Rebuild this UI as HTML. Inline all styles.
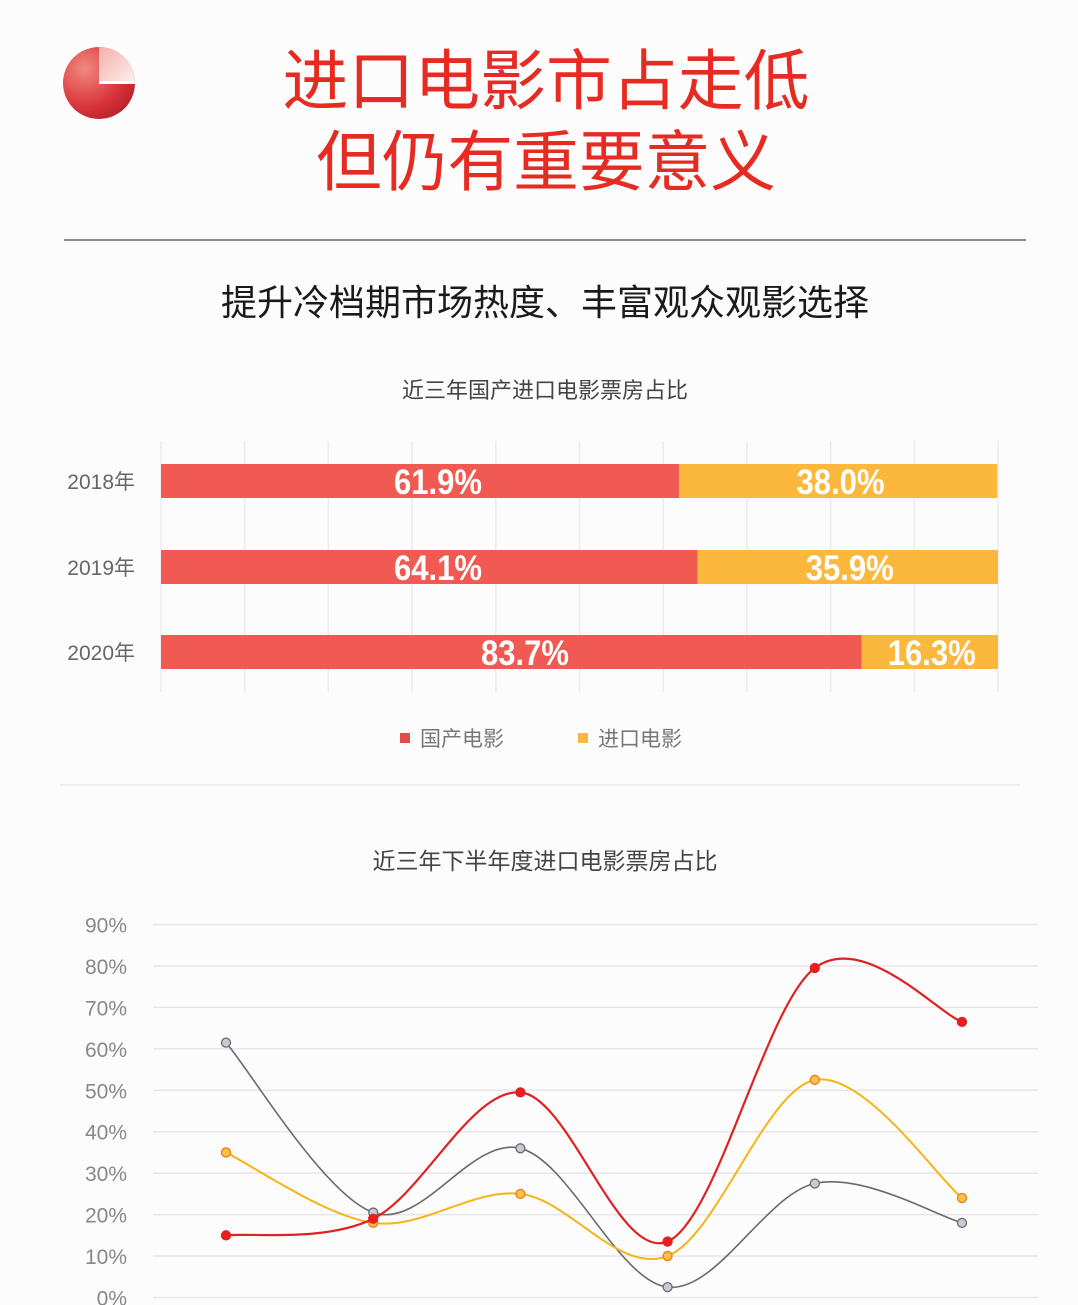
<!DOCTYPE html>
<html><head><meta charset="utf-8">
<style>
html,body{margin:0;padding:0;background:#fcfcfd;}
svg{display:block;}
.cjk{font-family:"Liberation Sans","Noto Sans CJK SC",sans-serif;}
</style></head>
<body>
<svg id="page" width="1078" height="1305" viewBox="0 0 1078 1305" xmlns="http://www.w3.org/2000/svg" class="cjk">
<defs>
<radialGradient id="lg" cx="0.3" cy="0.3" r="0.9">
<stop offset="0" stop-color="#f08a80"/><stop offset="0.6" stop-color="#d8333a"/><stop offset="1" stop-color="#a81a24"/></radialGradient>
<linearGradient id="lg2" x1="0" y1="0" x2="1" y2="1"><stop offset="0" stop-color="#f4b0a8"/><stop offset="1" stop-color="#fdf0ee"/></linearGradient>
</defs>
<g>
<circle cx="99" cy="83" r="36" fill="url(#lg)"/>
<path d="M99 83 L99 47 A36 36 0 0 1 135 83 Z" fill="url(#lg2)"/>
<rect x="99" y="81" width="37" height="3" fill="#fff"/>
</g>
<text x="546" y="104" text-anchor="middle" font-size="66" textLength="527" lengthAdjust="spacingAndGlyphs" fill="#e62b22">进口电影市占走低</text>
<text x="546" y="185" text-anchor="middle" font-size="66" textLength="460" lengthAdjust="spacingAndGlyphs" fill="#e62b22">但仍有重要意义</text>
<line x1="64" y1="240" x2="1026" y2="240" stroke="#8a8a8a" stroke-width="2"/>
<text x="545" y="315" text-anchor="middle" font-size="36" textLength="648" lengthAdjust="spacingAndGlyphs" fill="#1a1a1a">提升冷档期市场热度、丰富观众观影选择</text>
<text x="545" y="398" text-anchor="middle" font-size="22" fill="#444">近三年国产进口电影票房占比</text>
<g id="bars"></g>
<g>
<rect x="400" y="733" width="10" height="10" fill="#e84a45"/>
<text x="420" y="746" font-size="21" fill="#777">国产电影</text>
<rect x="578" y="733" width="10" height="10" fill="#fbb73c"/>
<text x="598" y="746" font-size="21" fill="#777">进口电影</text>
</g>
<line x1="60" y1="785" x2="1020" y2="785" stroke="#eeeef0" stroke-width="2"/>
<text x="545" y="869" text-anchor="middle" font-size="23" fill="#444">近三年下半年度进口电影票房占比</text>
<g id="lines"></g>
</svg>
<script>
const years = ["2018年","2019年","2020年"];
const domestic = [61.9, 64.1, 83.7];
const imported = [38.0, 35.9, 16.3];
const yTicks = [0,10,20,30,40,50,60,70,80,90];
const redSeries = [15, 19, 49.5, 13.5, 79.5, 66.5];
const yellowSeries = [35, 18, 25, 10, 52.5, 24];
const graySeries = [61.5, 20.5, 36, 2.5, 27.5, 18];

const NS="http://www.w3.org/2000/svg";
function mk(tag,attrs,parent,text){const e=document.createElementNS(NS,tag);for(const k in attrs)e.setAttribute(k,attrs[k]);if(text!==undefined)e.textContent=text;parent.appendChild(e);return e;}

const bars=document.getElementById('bars');
const bx0=161,bx1=998;
const bxs=v=>bx0+(bx1-bx0)*v/100;
const rowY=[481,567,652];
for(let i=0;i<=10;i++){
  const g=mk('line',{x1:bxs(i*10),x2:bxs(i*10),y1:441,y2:692,stroke:'#ececee','stroke-width':1.5},bars);
  
  
}
years.forEach((y,i)=>{
  const cy=rowY[i];
  const lab=mk('text',{x:135,y:cy+8,'text-anchor':'end','font-size':21,fill:'#666'},bars,y);
  
  
  const r=mk('rect',{x:bxs(0),y:cy-17,width:bxs(domestic[i])-bxs(0),height:34,fill:'#f05a52'},bars);
  
  
  const yb=mk('rect',{x:bxs(domestic[i]),y:cy-17,width:bxs(domestic[i]+imported[i])-bxs(domestic[i]),height:34,fill:'#fbb83d'},bars);
  
  
  const t1=mk('text',{x:i===2?525:438,y:cy+13,'text-anchor':'middle','font-size':35,'font-weight':'bold',fill:'#fff',textLength:88,lengthAdjust:'spacingAndGlyphs'},bars,domestic[i].toFixed(1)+'%');
  
  
  const t2=mk('text',{x:(bxs(domestic[i])+bxs(100))/2+2,y:cy+13,'text-anchor':'middle','font-size':35,'font-weight':'bold',fill:'#fff',textLength:88,lengthAdjust:'spacingAndGlyphs'},bars,imported[i].toFixed(1)+'%');
  
  
});

const lines=document.getElementById('lines');
const ly0=1297.5,ly90=924.5;
const ly=v=>ly0-(ly0-ly90)*v/90;
const lxs=i=>226+i*147.2;
yTicks.forEach(t=>{
  const g=mk('line',{x1:153,x2:1038,y1:ly(t),y2:ly(t),stroke:'#e6e6ea','stroke-width':1.5},lines);
  
  
  const l=mk('text',{x:127,y:ly(t)+8,'text-anchor':'end','font-size':21,fill:'#888'},lines,t+'%');
  
  
});
function smooth(vals){
  const p=vals.map((v,i)=>[lxs(i),ly(v)]);
  let d='M'+p[0][0]+' '+p[0][1];
  for(let i=0;i<p.length-1;i++){
    const p0=p[i-1]||p[i],p1=p[i],p2=p[i+1],p3=p[i+2]||p[i+1];
    const c1=[p1[0]+(p2[0]-p0[0])/6,p1[1]+(p2[1]-p0[1])/6];
    const c2=[p2[0]-(p3[0]-p1[0])/6,p2[1]-(p3[1]-p1[1])/6];
    d+=` C${c1[0]} ${c1[1]} ${c2[0]} ${c2[1]} ${p2[0]} ${p2[1]}`;
  }
  return d;
}
const series=[
  {vals:graySeries,stroke:'#666a70',fill:'#c8cad0',name:'gray',w:1.6},
  {vals:yellowSeries,stroke:'#f5b418',fill:'#fbc24a',name:'yellow',w:2},
  {vals:redSeries,stroke:'#dd2222',fill:'#ee1c1c',name:'red',w:2.2}
];
series.forEach(s=>{
  const p=mk('path',{d:smooth(s.vals),fill:'none',stroke:s.stroke,'stroke-width':s.w},lines);
  
  
  s.vals.forEach((v,i)=>{
    const c=mk('circle',{cx:lxs(i),cy:ly(v),r:4.5,fill:s.fill,stroke:s.name==='yellow'?'#f07a18':s.stroke,'stroke-width':1.3},lines);
    
    
  });
});
</script>
</body></html>
